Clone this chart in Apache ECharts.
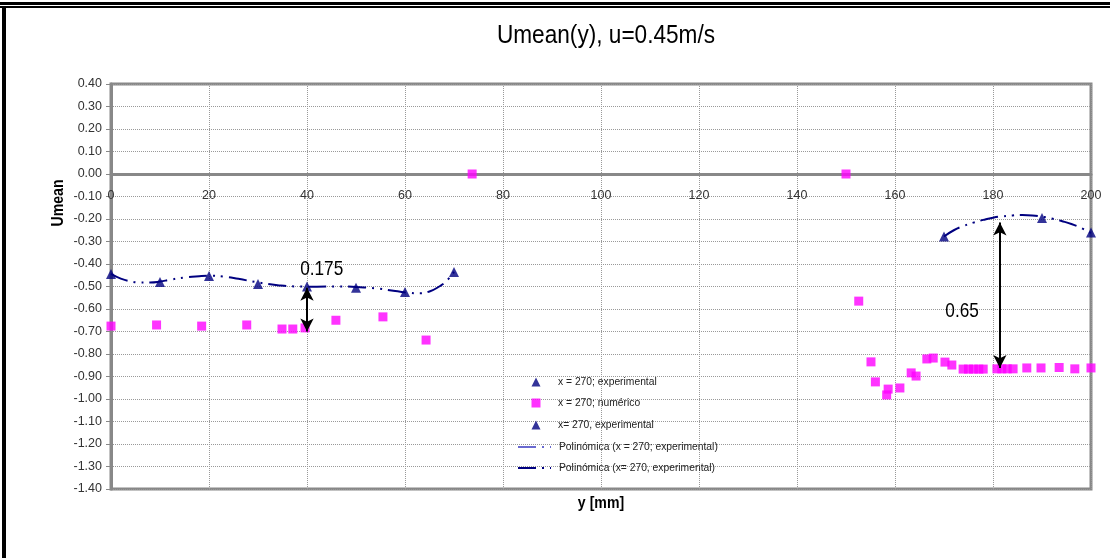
<!DOCTYPE html>
<html><head><meta charset="utf-8">
<script src="https://cdn.jsdelivr.net/npm/echarts@6/dist/echarts.min.js"></script>
<style>html,body{margin:0;padding:0;background:#fff}#c{width:1110px;height:558px}</style>
</head><body><div id="c"></div>
<script>
// ---- data ----
const titleText = 'Umean(y), u=0.45m/s';
const xName = 'y [mm]';
const yName = 'Umean';
const xTicks = [0, 20, 40, 60, 80, 100, 120, 140, 160, 180, 200];
const yTicks = [0.4, 0.3, 0.2, 0.1, 0, -0.1, -0.2, -0.3, -0.4, -0.5, -0.6, -0.7, -0.8, -0.9, -1.0, -1.1, -1.2, -1.3, -1.4];

const seriesNames = [
  'x = 270; experimental',
  'x = 270; numérico',
  'x= 270, experimental',
  'Polinómica (x = 270; experimental)',
  'Polinómica (x= 270, experimental)'
];

// experimental, left (y, Umean)
const expLeft = [[0,-0.444],[10,-0.48],[20,-0.453],[30,-0.489],[40,-0.50],[50,-0.506],[60,-0.524],[70,-0.435]];
// experimental, right
const expRight = [[170,-0.278],[190,-0.195],[200,-0.26]];
// numerical
const numerico = [
  [0,-0.676],[9.3,-0.671],[18.5,-0.676],[27.7,-0.671],[34.9,-0.689],[37.1,-0.689],[39.6,-0.684],
  [45.9,-0.65],[55.5,-0.635],[64.3,-0.738],[73.7,0.0],[150,0.0],
  [152.6,-0.565],[155.1,-0.835],[156,-0.924],[158.3,-0.982],[158.6,-0.956],[161,-0.951],
  [163.3,-0.884],[164.3,-0.898],[166.5,-0.822],[167.8,-0.818],[170.2,-0.836],[171.6,-0.849],
  [173.9,-0.867],[175,-0.867],[176,-0.867],[177.1,-0.867],[178,-0.867],
  [180.8,-0.866],[181.8,-0.866],[182.9,-0.866],[184.1,-0.866],
  [186.9,-0.862],[189.8,-0.862],[193.5,-0.86],[196.7,-0.866],[200,-0.862]
];
// polynomial trend lines
const polyLeft = [[0,-0.444],[2,-0.465],[4,-0.477],[6,-0.482],[8,-0.482],[10,-0.478],[12,-0.47],[15,-0.46],
  [18,-0.454],[20,-0.452],[23,-0.456],[26,-0.466],[30,-0.482],[34,-0.494],[38,-0.50],[42,-0.501],
  [46,-0.50],[50,-0.502],[54,-0.508],[58,-0.52],[61,-0.528],[63,-0.53],[65,-0.522],[67,-0.5],[68.5,-0.475],[70,-0.435]];
const polyRight = [[170,-0.278],[172,-0.25],[174,-0.231],[176,-0.216],[178,-0.204],[180,-0.194],[182,-0.188],
  [184,-0.184],[186,-0.182],[188,-0.184],[190,-0.19],[192,-0.198],[194,-0.209],[196,-0.222],[198,-0.24],[200,-0.262]];

// annotations
const arrows = [[[40,-0.505],[40,-0.70]], [[181.4,-0.215],[181.4,-0.862]]];
const arrowLabels = [{at:[43,-0.422], text:'0.175'}, {at:[173.7,-0.609], text:'0.65'}];

// ---- chart ----
const NAVY = '#000080', MAG = '#ff00ff';
const FONT = "'Liberation Sans', Arial, sans-serif";
const dash = [18, 6, 2, 6, 2, 6];
const chart = echarts.init(document.getElementById('c'), null, {renderer:'canvas'});

// one legend per entry so each row can be placed like the original
const legendRows = [383, 404, 426, 448, 469];
function legendFor(i) {
  const isLine = i >= 3;
  const item = {name: seriesNames[i]};
  if (isLine) {
    item.itemStyle = {color: 'rgba(0,0,0,0)', borderWidth: 0, opacity: 0};
    if (i === 3) item.lineStyle = {color: '#6a6ad0'};
  }
  return {
    orient: 'vertical', data: [item], selectedMode: false,
    left: isLine ? 517 : 531.5, top: legendRows[i] - 6,
    itemWidth: isLine ? 33 : 9, itemHeight: isLine ? 12 : 9, padding: 0,
    textStyle: {fontFamily: FONT, fontSize: 10.3, color: '#222',
      padding: [0, 0, 0, isLine ? 3 : 12.5]}
  };
}

function txt(x, y, text, size, sx, extra, weight) {
  return Object.assign({type: 'text', x: x, y: y, scaleX: sx, silent: true,
    style: {text: text, fontFamily: FONT, fontSize: size, fill: '#000', fontWeight: weight || 'normal',
      textAlign: 'center', textVerticalAlign: 'middle'}}, extra || {});
}

chart.setOption({
  backgroundColor: '#fff',
  animation: false,
  grid: {left: 111, right: 19, top: 84, bottom: 69, show: true, borderColor: '#888', borderWidth: 3},
  legend: [0, 1, 2, 3, 4].map(legendFor),
  xAxis: {
    type: 'value', min: xTicks[0], max: xTicks[xTicks.length-1], interval: 20,
    offset: -315,
    axisLine: {onZero: false, lineStyle: {color: '#888', width: 3}},
    axisTick: {show: false},
    axisLabel: {fontFamily: FONT, fontSize: 12.5, color: '#333', margin: 15},
    splitLine: {show: true, lineStyle: {color: '#999', type: 'dotted', width: 1}}
  },
  yAxis: {
    type: 'value', min: yTicks[yTicks.length-1], max: yTicks[0], interval: 0.1,
    axisLine: {show: true, onZero: false, lineStyle: {color: '#888', width: 3}},
    axisTick: {show: true, inside: false, length: 5, lineStyle: {color: '#888', width: 1}},
    axisLabel: {fontFamily: FONT, fontSize: 12.5, color: '#333', margin: 9,
      formatter: v => v.toFixed(2)},
    splitLine: {show: true, lineStyle: {color: '#999', type: 'dotted', width: 1}}
  },
  series: [
    {name: seriesNames[3], type: 'line', data: polyLeft, smooth: true, showSymbol: false, symbol: 'none',
      lineStyle: {color: NAVY, width: 2, type: dash}, itemStyle: {color: NAVY}, z: 2},
    {name: seriesNames[4], type: 'line', data: polyRight, smooth: true, showSymbol: false, symbol: 'none',
      lineStyle: {color: NAVY, width: 2, type: dash}, itemStyle: {color: NAVY}, z: 2},
    {name: seriesNames[0], type: 'scatter', data: expLeft, symbol: 'triangle', symbolSize: 10,
      itemStyle: {color: NAVY}, z: 3},
    {name: seriesNames[1], type: 'scatter', data: numerico, symbol: 'rect', symbolSize: 9,
      itemStyle: {color: MAG}, z: 3},
    {name: seriesNames[2], type: 'scatter', data: expRight, symbol: 'triangle', symbolSize: 10,
      itemStyle: {color: NAVY}, z: 3},
    {name: 'arrows', type: 'line', data: [], silent: true,
      markLine: {silent: true, symbol: ['arrow', 'arrow'], symbolSize: [10, 13], precision: 3,
        label: {show: false}, lineStyle: {color: '#000', width: 2, type: 'solid'},
        data: arrows.map(a => [{coord: a[0]}, {coord: a[1]}])}}
  ]
});

// text elements; annotation labels placed through the chart's own scales
const gfx = [
  {type: 'rect', shape: {x: 0, y: 2, width: 1110, height: 3}, style: {fill: '#000'}, silent: true},
  {type: 'rect', shape: {x: 0, y: 6, width: 1110, height: 2}, style: {fill: '#000'}, silent: true},
  {type: 'rect', shape: {x: 2, y: 6, width: 4, height: 552}, style: {fill: '#000'}, silent: true},
  txt(606, 36, titleText, 26, 0.87),
  txt(58, 203, yName, 17, 0.83, {rotation: Math.PI/2}, 'bold'),
  txt(601, 503, xName, 17, 0.83, null, 'bold')
];
arrowLabels.forEach(a => {
  const p = chart.convertToPixel({gridIndex: 0}, a.at);
  gfx.push(txt(p[0], p[1], a.text, 21, 0.82));
});
chart.setOption({graphic: gfx});
</script></body></html>
